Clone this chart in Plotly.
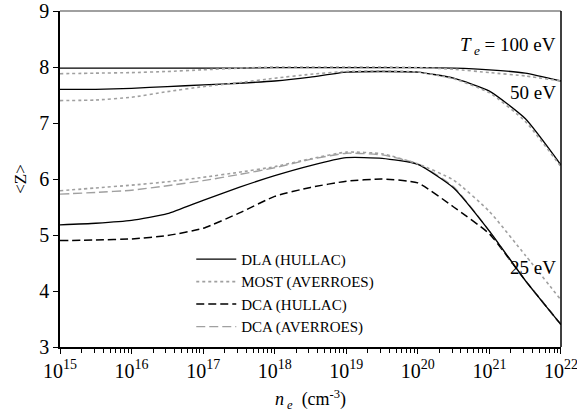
import plotly.graph_objects as go

# log10 of electron density
log_ne = [15, 15.5, 16, 16.5, 17, 17.5, 18, 18.5, 19, 19.5, 20, 20.5, 21, 21.5, 22]

# Te = 100 eV
dla_100 = [7.98, 7.98, 7.98, 7.98, 7.98, 7.98, 7.99, 7.99, 7.99, 7.99, 7.99, 7.98, 7.95, 7.89, 7.75]
most_100 = [7.88, 7.89, 7.90, 7.92, 7.95, 7.98, 8.00, 8.00, 8.00, 8.00, 7.99, 7.96, 7.90, 7.84, 7.75]
# Te = 50 eV
dla_50 = [7.60, 7.60, 7.62, 7.65, 7.68, 7.71, 7.75, 7.82, 7.91, 7.92, 7.91, 7.80, 7.57, 7.08, 6.25]
most_50 = [7.40, 7.41, 7.46, 7.56, 7.65, 7.72, 7.80, 7.87, 7.92, 7.93, 7.91, 7.79, 7.54, 7.03, 6.22]
# Te = 25 eV
dla_25 = [5.18, 5.21, 5.26, 5.38, 5.62, 5.85, 6.06, 6.24, 6.38, 6.37, 6.26, 5.84, 5.07, 4.19, 3.40]
most_25 = [5.79, 5.84, 5.89, 5.95, 6.03, 6.12, 6.22, 6.36, 6.48, 6.45, 6.27, 5.98, 5.42, 4.64, 3.84]
dca_h_25 = [4.90, 4.91, 4.93, 4.99, 5.12, 5.39, 5.69, 5.85, 5.96, 6.00, 5.93, 5.50, 5.02, 4.19, 3.40]
dca_a_25 = [5.73, 5.76, 5.80, 5.88, 5.97, 6.08, 6.20, 6.35, 6.46, 6.43, 6.27, 5.86, 5.07, 4.19, 3.40]

tick_exp = [15, 16, 17, 18, 19, 20, 21, 22]
tick_text = ["10<sup>%d</sup>" % e for e in tick_exp]
y_ticks = [3, 4, 5, 6, 7, 8, 9]

ne = [10.0 ** v for v in log_ne]

FONT = "Liberation Serif, Times New Roman, serif"
GRAY = "#a0a0a0"

styles = {
    "DLA (HULLAC)": dict(color="black", width=1.3, dash="solid", shape="spline", smoothing=0.5),
    "MOST (AVERROES)": dict(color=GRAY, width=1.6, dash="3px,3px", shape="spline", smoothing=0.5),
    "DCA (HULLAC)": dict(color="black", width=1.5, dash="8px,4px", shape="spline", smoothing=0.5),
    "DCA (AVERROES)": dict(color=GRAY, width=1.4, dash="9px,4px", shape="spline", smoothing=0.5),
}

series = [
    ("DLA (HULLAC)", dla_100, True),
    ("MOST (AVERROES)", most_100, True),
    ("DCA (HULLAC)", dca_h_25, True),
    ("DCA (AVERROES)", dca_a_25, True),
    ("DLA (HULLAC)", dla_50, False),
    ("MOST (AVERROES)", most_50, False),
    ("DLA (HULLAC)", dla_25, False),
    ("MOST (AVERROES)", most_25, False),
]

fig = go.Figure()
for name, ys, show in series:
    fig.add_trace(go.Scatter(x=ne, y=ys, mode="lines", name=name, showlegend=show,
                             line=styles[name]))

fig.update_layout(
    width=577, height=414,
    margin=dict(l=60, r=16, t=11, b=67, autoexpand=False),
    paper_bgcolor="white", plot_bgcolor="white",
    font=dict(family=FONT, size=16, color="black"),
    showlegend=True,
    legend=dict(x=0.262, y=0.31, xanchor="left", yanchor="top",
                bgcolor="rgba(0,0,0,0)", font=dict(family=FONT, size=15, color="black"),
                tracegroupgap=0, itemwidth=40),
    xaxis=dict(type="log", range=[15, 22.0001], automargin=False,
               tickmode="array", tickvals=[10.0 ** e for e in tick_exp], ticktext=tick_text,
               ticklabeloverflow="allow",
               showgrid=False, zeroline=False, showline=True, linecolor="black",
               linewidth=1.5, ticks="outside", ticklen=5, tickcolor="black",
               minor=dict(ticks="outside", ticklen=4, tickcolor="black", dtick="D1", showgrid=False),
               title=dict(text="<i>n</i><sub> <i>e</i></sub>  (cm<sup>-3</sup>)", standoff=12,
                          font=dict(family=FONT, size=18, color="black")),
               tickfont=dict(family=FONT, size=20, color="black")),
    yaxis=dict(range=[3, 9], tickmode="array", tickvals=y_ticks, automargin=False,
               showgrid=False, zeroline=False, showline=True,
               linecolor="black", linewidth=1.5, ticks="outside", ticklen=5,
               tickcolor="black", mirror=False,
               title=dict(text="&lt;Z&gt;", standoff=8, font=dict(family=FONT, size=17, color="black")),
               tickfont=dict(family=FONT, size=20, color="black")),
)

# top border (gray) and right border (black)
fig.add_shape(type="line", xref="paper", yref="paper", x0=0, x1=1, y0=1, y1=1,
              line=dict(color="#808080", width=1.5))
fig.add_shape(type="line", xref="paper", yref="paper", x0=1, x1=1, y0=0, y1=1,
              line=dict(color="black", width=1.5))

ann = [
    ("<i>T</i><sub> <i>e</i></sub> = 100 eV", 8.38),
    ("50 eV", 7.55),
    ("25 eV", 4.42),
]
for text, yv in ann:
    fig.add_annotation(x=1, xref="paper", y=yv, yref="y", text=text, showarrow=False,
                       xanchor="right", yanchor="middle", xshift=-3,
                       font=dict(family=FONT, size=19, color="black"))

fig.write_html("out.html")
